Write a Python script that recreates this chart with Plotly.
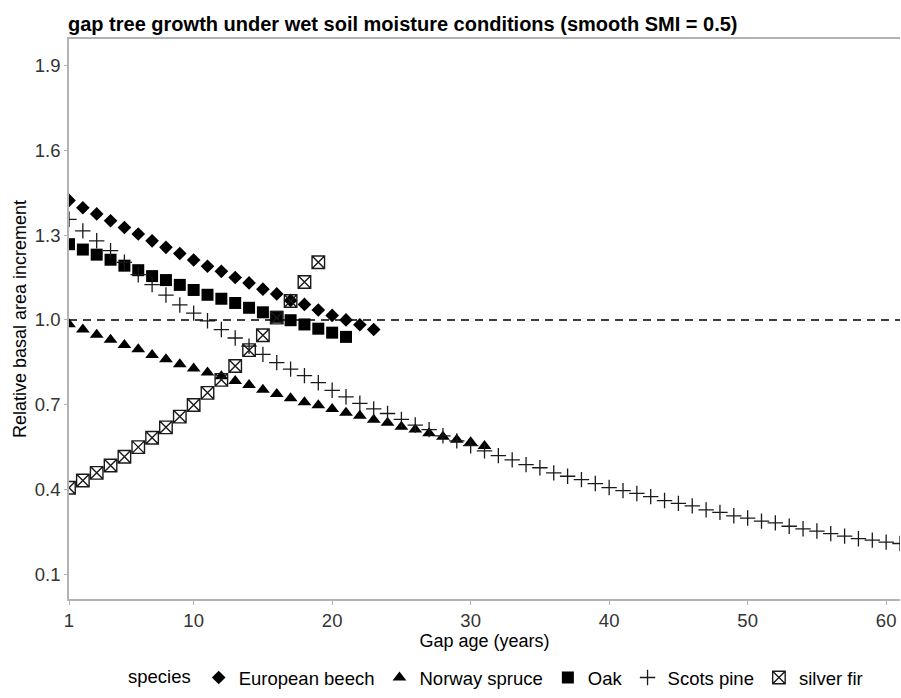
import plotly.graph_objects as go

# ---- data ----
beech_x = list(range(1, 24))
beech_y = [1.423, 1.397, 1.375, 1.351, 1.327, 1.304, 1.280, 1.257, 1.235, 1.212,
           1.190, 1.172, 1.150, 1.131, 1.109, 1.092, 1.069, 1.055, 1.035, 1.016,
           1.000, 0.983, 0.966]

spruce_x = list(range(1, 32))
spruce_y = [0.985, 0.966, 0.948, 0.930, 0.911, 0.896, 0.876, 0.861, 0.843, 0.828,
            0.814, 0.801, 0.784, 0.770, 0.753, 0.738, 0.723, 0.709, 0.698, 0.685,
            0.672, 0.661, 0.647, 0.636, 0.622, 0.612, 0.599, 0.587, 0.576, 0.567,
            0.554]

oak_x = list(range(1, 22))
oak_y = [1.268, 1.249, 1.231, 1.213, 1.192, 1.176, 1.155, 1.141, 1.124, 1.106,
         1.089, 1.075, 1.060, 1.043, 1.027, 1.011, 0.999, 0.984, 0.969, 0.955,
         0.940]

pine_x = list(range(1, 62))
pine_y = [1.356, 1.315, 1.280, 1.245, 1.204, 1.160, 1.125, 1.088, 1.053, 1.024,
          0.997, 0.966, 0.936, 0.907, 0.878, 0.849, 0.826, 0.803, 0.778, 0.751,
          0.728, 0.705, 0.685, 0.669, 0.648, 0.628, 0.612, 0.590, 0.572, 0.555,
          0.537, 0.520, 0.505, 0.488, 0.477, 0.459, 0.447, 0.435, 0.421, 0.407,
          0.396, 0.386, 0.375, 0.361, 0.351, 0.342, 0.328, 0.319, 0.307, 0.299,
          0.288, 0.282, 0.270, 0.261, 0.253, 0.244, 0.235, 0.226, 0.221, 0.214,
          0.209]

fir_x = list(range(1, 20))
fir_y = [0.406, 0.432, 0.459, 0.485, 0.516, 0.550, 0.583, 0.620, 0.658, 0.699,
         0.742, 0.788, 0.837, 0.893, 0.946, 1.008, 1.067, 1.134, 1.204]

x_ticks = [1, 10, 20, 30, 40, 50, 60]
y_ticks = [0.1, 0.4, 0.7, 1.0, 1.3, 1.6, 1.9]
y_tick_labels = ["0.1", "0.4", "0.7", "1.0", "1.3", "1.6", "1.9"]
reference_level = 1.0

FONT = "Liberation Sans, Arial, sans-serif"

fig = go.Figure()
fig.add_trace(go.Scatter(x=beech_x, y=beech_y, mode="markers", name="European beech",
                         marker=dict(symbol="diamond", size=10.5, color="black")))
fig.add_trace(go.Scatter(x=spruce_x, y=spruce_y, mode="markers", name="Norway spruce",
                         marker=dict(symbol="triangle-up", size=12, color="black")))
fig.add_trace(go.Scatter(x=oak_x, y=oak_y, mode="markers", name="Oak",
                         marker=dict(symbol="square", size=12, color="black")))
fig.add_trace(go.Scatter(x=pine_x, y=pine_y, mode="markers", name="Scots pine",
                         marker=dict(symbol="cross-thin-open", size=11, color="#1a1a1a",
                                     line=dict(width=1.3, color="#1a1a1a"))))
fig.add_trace(go.Scatter(x=fir_x, y=fir_y, mode="markers", name="silver fir",
                         marker=dict(symbol="square-x-open", size=12.5, color="#1a1a1a",
                                     line=dict(width=1.4, color="#1a1a1a"))))

fig.add_hline(y=reference_level, line=dict(color="black", width=1.6, dash="8px,6px"))

fig.update_layout(
    width=901, height=698,
    margin=dict(l=69, r=1, t=39, b=92),
    paper_bgcolor="white", plot_bgcolor="white",
    font=dict(family=FONT, color="black"),
    title=dict(text="<b>gap tree growth under wet soil moisture conditions (smooth SMI = 0.5)</b>",
               x=68 / 901, xanchor="left", y=1 - 24 / 698, yanchor="middle",
               font=dict(size=20, color="black", family=FONT)),
    showlegend=True,
    legend=dict(orientation="h", x=0.515, xanchor="center", y=-0.141, yanchor="middle",
                title=dict(text="species", side="left", font=dict(size=18.5)),
                font=dict(size=18.5, color="black"), bgcolor="rgba(0,0,0,0)",
                itemwidth=30, tracegroupgap=0),
)
fig.update_xaxes(range=[1, 61], tickmode="array", tickvals=x_ticks,
                 showgrid=False, zeroline=False,
                 showline=True, linecolor="#b3b3b3", linewidth=1.5, mirror=True,
                 ticks="outside", ticklen=4, tickcolor="#b3b3b3", tickwidth=1,
                 tickfont=dict(size=18.5, color="#333333"),
                 title=dict(text="Gap age (years)", font=dict(size=18, color="black"), standoff=0))
fig.update_yaxes(range=[0.0126, 1.994], tickmode="array", tickvals=y_ticks, ticktext=y_tick_labels,
                 showgrid=False, zeroline=False,
                 showline=True, linecolor="#b3b3b3", linewidth=1.5,
                 ticks="outside", ticklen=3, tickcolor="#b3b3b3", tickwidth=1,
                 tickfont=dict(size=18.5, color="#333333"),
                 title=dict(text="Relative basal area increment", font=dict(size=18, color="black"), standoff=4))

fig.write_html("out.html", config={"displayModeBar": False},
               post_script="document.body.style.margin='0px';document.body.style.padding='0px';")
